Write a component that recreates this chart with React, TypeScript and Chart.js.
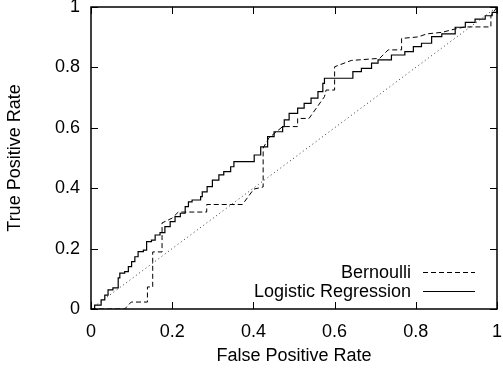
import React, { useEffect, useRef } from 'react';
import { Chart, registerables } from 'chart.js';
Chart.register(...registerables);

const FONT = '"Liberation Sans", Arial, Helvetica, sans-serif';
const FSIZE = 18;

const seriesLabels = ['Bernoulli', 'Logistic Regression'];
const tickValues = [0, 0.2, 0.4, 0.6, 0.8, 1];
const tickLabels = ['0', '0.2', '0.4', '0.6', '0.8', '1'];

const bernoulliFpr = [0, 0.083, 0.099, 0.139, 0.139, 0.152, 0.152, 0.175, 0.175, 0.2, 0.215, 0.285, 0.285, 0.373, 0.401, 0.424, 0.424, 0.438, 0.472, 0.509, 0.509, 0.537, 0.575, 0.579, 0.6, 0.6, 0.641, 0.711, 0.732, 0.765, 0.765, 0.806, 0.827, 0.864, 0.896, 0.921, 0.985, 0.985, 1];
const bernoulliTpr = [0, 0, 0.023, 0.023, 0.073, 0.073, 0.189, 0.189, 0.285, 0.301, 0.321, 0.321, 0.346, 0.346, 0.397, 0.404, 0.533, 0.566, 0.604, 0.604, 0.631, 0.631, 0.703, 0.725, 0.725, 0.802, 0.823, 0.83, 0.858, 0.858, 0.896, 0.901, 0.911, 0.916, 0.927, 0.934, 0.934, 0.97, 1];

const logisticFpr = [0, 0.009, 0.025, 0.034, 0.042, 0.054, 0.067, 0.071, 0.083, 0.092, 0.1, 0.108, 0.116, 0.129, 0.137, 0.149, 0.158, 0.17, 0.182, 0.195, 0.207, 0.22, 0.232, 0.24, 0.249, 0.27, 0.274, 0.286, 0.299, 0.315, 0.327, 0.344, 0.352, 0.394, 0.402, 0.418, 0.435, 0.451, 0.472, 0.476, 0.488, 0.509, 0.525, 0.542, 0.559, 0.571, 0.575, 0.634, 0.645, 0.666, 0.691, 0.707, 0.74, 0.773, 0.794, 0.814, 0.839, 0.864, 0.897, 0.922, 0.946, 0.971, 0.988, 1];
const logisticTpr = [0, 0.013, 0.03, 0.046, 0.063, 0.07, 0.103, 0.119, 0.124, 0.14, 0.157, 0.173, 0.19, 0.195, 0.223, 0.228, 0.245, 0.253, 0.273, 0.289, 0.306, 0.317, 0.339, 0.355, 0.361, 0.372, 0.388, 0.405, 0.427, 0.444, 0.455, 0.471, 0.488, 0.488, 0.51, 0.537, 0.571, 0.587, 0.604, 0.626, 0.648, 0.665, 0.681, 0.698, 0.72, 0.747, 0.764, 0.764, 0.786, 0.797, 0.814, 0.825, 0.841, 0.852, 0.869, 0.88, 0.902, 0.911, 0.933, 0.949, 0.96, 0.971, 0.982, 1];

const chanceFpr = [0, 1];
const chanceTpr = [0, 1];

const toPoints = (xs: number[], ys: number[]) => xs.map((x, i) => ({ x, y: ys[i] }));

const framePlugin = {
  id: 'gnuFrame',
  afterDatasetsDraw(chart: any) {
    const { ctx, chartArea, scales } = chart;
    const { left, right, top, bottom } = chartArea;
    const xs = scales.x;
    const ys = scales.y;
    ctx.save();
    ctx.strokeStyle = '#000';
    ctx.lineWidth = 1;
    ctx.setLineDash([]);
    ctx.beginPath();
    const tl = 7;
    xs.ticks.forEach((t: any) => {
      const px = Math.round(xs.getPixelForValue(t.value)) + 0.5;
      ctx.moveTo(px, bottom);
      ctx.lineTo(px, bottom - tl);
      ctx.moveTo(px, top);
      ctx.lineTo(px, top + tl);
    });
    ys.ticks.forEach((t: any) => {
      const py = Math.round(ys.getPixelForValue(t.value)) + 0.5;
      ctx.moveTo(left, py);
      ctx.lineTo(left + tl, py);
      ctx.moveTo(right, py);
      ctx.lineTo(right - tl, py);
    });
    ctx.stroke();
    ctx.lineWidth = 1.5;
    ctx.strokeRect(left, top, right - left, bottom - top);

    // legend (inside, bottom right, gnuplot style)
    ctx.font = FSIZE + 'px ' + FONT;
    ctx.fillStyle = '#000';
    ctx.textAlign = 'right';
    ctx.textBaseline = 'middle';
    const dsList = chart.data.datasets.filter((d: any) => seriesLabels.includes(d.label));
    dsList.forEach((ds: any, i: number) => {
      const yy = bottom - 37 + i * 19;
      ctx.fillText(ds.label, right - 86, yy + 1);
      ctx.beginPath();
      ctx.lineWidth = ds.borderWidth;
      ctx.strokeStyle = ds.borderColor;
      ctx.setLineDash(ds.borderDash || []);
      ctx.moveTo(right - 74, Math.round(yy) + 0.5);
      ctx.lineTo(right - 22, Math.round(yy) + 0.5);
      ctx.stroke();
    });
    ctx.restore();
  },
};

export default function App() {
  const ref = useRef<HTMLCanvasElement>(null);
  useEffect(() => {
    if (!ref.current) return;
    const tickFont = { family: FONT, size: FSIZE };
    const chart = new Chart(ref.current, {
      type: 'scatter',
      data: {
        datasets: [
          {
            label: seriesLabels[0],
            data: toPoints(bernoulliFpr, bernoulliTpr),
            showLine: true,
            borderColor: '#000',
            borderWidth: 1,
            borderDash: [5, 3],
            pointRadius: 0,
            tension: 0,
          },
          {
            label: seriesLabels[1],
            data: toPoints(logisticFpr, logisticTpr),
            showLine: true,
            borderColor: '#000',
            borderWidth: 1.2,
            stepped: 'before',
            pointRadius: 0,
          },
          {
            label: 'chance',
            data: toPoints(chanceFpr, chanceTpr),
            showLine: true,
            borderColor: '#333',
            borderWidth: 1,
            borderDash: [1, 3],
            pointRadius: 0,
          },
        ],
      },
      options: {
        animation: false,
        responsive: false,
        layout: { padding: { left: 0, top: 7, right: 6, bottom: 0 } },
        plugins: { legend: { display: false }, tooltip: { enabled: false } },
        scales: {
          x: {
            type: 'linear',
            min: 0,
            max: 1,
            grid: { display: false, drawTicks: false },
            border: { display: false },
            afterBuildTicks: (s: any) => { s.ticks = tickValues.map((v) => ({ value: v })); },
            afterFit: (s: any) => { s.height = 63; s.paddingLeft = 0; s.paddingRight = 0; },
            ticks: { padding: 12, maxRotation: 0, color: '#000', font: tickFont, callback: (_v: any, i: number) => tickLabels[i] },
            title: { display: true, text: 'False Positive Rate', color: '#000', font: tickFont, padding: { top: 0, bottom: 5 } },
          },
          y: {
            type: 'linear',
            min: 0,
            max: 1,
            grid: { display: false, drawTicks: false },
            border: { display: false },
            afterBuildTicks: (s: any) => { s.ticks = tickValues.map((v) => ({ value: v })); },
            afterFit: (s: any) => { s.width = 91; s.paddingTop = 0; s.paddingBottom = 0; },
            ticks: { padding: 11, color: '#000', font: tickFont, callback: (_v: any, i: number) => tickLabels[i] },
            title: { display: true, text: 'True Positive Rate', color: '#000', font: tickFont, padding: { top: 4, bottom: 0 } },
          },
        },
      },
      plugins: [framePlugin],
    } as any);
    return () => chart.destroy();
  }, []);
  return (
    <div style={{ position: 'absolute', left: 0, top: 0, width: 503, height: 372, background: '#fff' }}>
      <canvas ref={ref} width={503} height={372} />
    </div>
  );
}
